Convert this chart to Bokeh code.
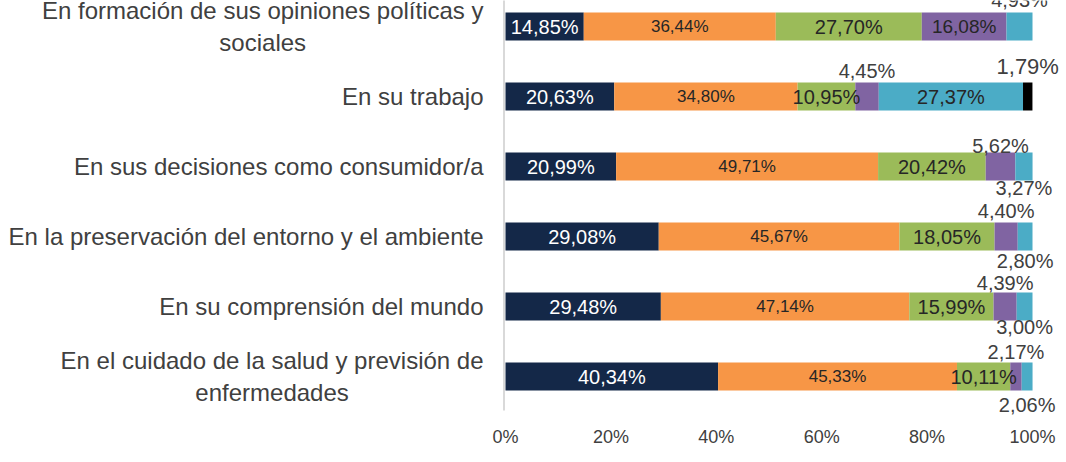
from bokeh.plotting import figure
from bokeh.models import FixedTicker, ColumnDataSource, Range1d
from bokeh.core.properties import value
from bokeh.embed import file_html
from bokeh.resources import INLINE

# ---- data (rows listed bottom -> top) ----
categories = [
    "En el cuidado de la salud y previsión de\nenfermedades",
    "En su comprensión del mundo",
    "En la preservación del entorno y el ambiente",
    "En sus decisiones como consumidor/a",
    "En su trabajo",
    "En formación de sus opiniones políticas y\nsociales",
]
serie_1 = [40.34, 29.48, 29.08, 20.99, 20.63, 14.85]
serie_2 = [45.33, 47.14, 45.67, 49.71, 34.80, 36.44]
serie_3 = [10.11, 15.99, 18.05, 20.42, 10.95, 27.70]
serie_4 = [2.17, 4.39, 4.40, 5.62, 4.45, 16.08]
serie_5 = [2.06, 3.00, 2.80, 3.27, 27.37, 4.93]
serie_6 = [0.00, 0.00, 0.00, 0.00, 1.79, 0.00]
x_ticks = [0, 20, 40, 60, 80, 100]
x_tick_labels = ["0%", "20%", "40%", "60%", "80%", "100%"]

# ---- styles ----
series = [serie_1, serie_2, serie_3, serie_4, serie_5, serie_6]
colors = ["#142848", "#F79646", "#9BBB59", "#8064A2", "#4BACC6", "#000000"]
inside_text_color = ["#FFFFFF", "#262626", "#262626", "#262626", "#262626", "#262626"]
inside_size = ["20px", "17px", "20px", "19px", "20px", "20px"]
# label placement per row (bottom->top) and series; None = no label,
# "in" = centred inside, number = pixel offset (negative above, positive below)
placement = [
    ["in", "in", "in", -25, 28, None],
    ["in", "in", "in", -24, 20, None],
    ["in", "in", "in", -26, 24, None],
    ["in", "in", "in", -21, 21, None],
    ["in", "in", "in", -26, "in", -30],
    ["in", "in", "in", "in", -27, None],
]
W, H = 1066, 462
PX0 = 505.0            # pixel of 0 %
PX_PER_PCT = 5.27
PX_PER_ROW = 70.0
TOP_PAD_PX = 26.0      # from frame top to the centre of the top row
FRAME_H = 422.0
AXIS_BOTTOM_PX = 410.0
BAR_H = 0.4
FONT = "Liberation Sans"
CAT_SIZE = 24
CAT_GAP = 22           # px between category labels and the axis

# Arial / Liberation Sans advance widths (1/1000 em) for centring wrapped labels
ADV = {" ": 278, "E": 667, "a": 556, "c": 500, "d": 556, "e": 556, "f": 278,
       "i": 222, "l": 222, "m": 833, "n": 556, "o": 556, "p": 556, "r": 333,
       "s": 500, "t": 278, "u": 556, "v": 500, "y": 500, "ó": 556, "í": 278}


def text_w(s, size):
    return sum(ADV.get(ch, 556) for ch in s) / 1000.0 * size


n_rows = len(categories)
y_top = (n_rows - 1) + TOP_PAD_PX / PX_PER_ROW
y_bot = y_top - FRAME_H / PX_PER_ROW

p = figure(width=W, height=H,
           x_range=Range1d(-PX0 / PX_PER_PCT, (W - PX0) / PX_PER_PCT),
           y_range=Range1d(y_bot, y_top),
           output_backend="svg", toolbar_location=None,
           min_border_left=0, min_border_right=0,
           min_border_top=0, min_border_bottom=int(H - FRAME_H))
p.outline_line_color = None
p.xgrid.visible = False
p.ygrid.visible = False
p.yaxis.visible = False
p.background_fill_color = "white"
p.border_fill_color = "white"

rows = list(range(n_rows))

# vertical axis line
axis_y0 = y_top - AXIS_BOTTOM_PX / PX_PER_ROW
p.segment(x0=[-1.5 / PX_PER_PCT], y0=[axis_y0], x1=[-1.5 / PX_PER_PCT], y1=[y_top + 1],
          line_color="#D9D9D9", line_width=2)

# stacked bars + labels
left = [0.0] * n_rows
lx, ly, lt, lc, ls = [], [], [], [], []
for si, vals in enumerate(series):
    right = [l + v for l, v in zip(left, vals)]
    src = ColumnDataSource(dict(y=rows, left=left, right=right))
    p.hbar(y="y", left="left", right="right", height=BAR_H, source=src,
           fill_color=colors[si], line_color=None)
    for r in rows:
        mode = placement[r][si]
        if mode is None or vals[r] <= 0:
            continue
        cx = (left[r] + right[r]) / 2.0
        txt = f"{vals[r]:.2f}%".replace(".", ",")
        if mode == "in":
            lx.append(cx); ly.append(r); lt.append(txt)
            lc.append(inside_text_color[si]); ls.append(inside_size[si])
        else:
            lx.append(cx); ly.append(r - mode / PX_PER_ROW); lt.append(txt)
            lc.append("#404040")
            ls.append("22px" if si == 5 else "20px")
    left = right

lsrc = ColumnDataSource(dict(x=lx, y=ly, t=lt, c=lc, s=ls))
p.text(x="x", y="y", text="t", source=lsrc, text_color="c",
       text_font_size="s", text_font=value(FONT),
       text_align="center", text_baseline="middle")

# category labels (right aligned; wrapped ones centred on their widest line)
cx_, ca_, co_ = [], [], []
for c in categories:
    lines = c.split("\n")
    if len(lines) > 1:
        wmax = max(text_w(l, CAT_SIZE) for l in lines)
        ca_.append("center"); co_.append(-CAT_GAP - wmax / 2.0)
    else:
        ca_.append("right"); co_.append(-CAT_GAP)
    cx_.append(0)
csrc = ColumnDataSource(dict(x=cx_, y=rows, t=categories, a=ca_, o=co_))
p.text(x="x", y="y", text="t", source=csrc, text_align="a", x_offset="o",
       text_baseline="middle", text_font=value(FONT),
       text_font_size=value(f"{CAT_SIZE}px"), text_color="#404040",
       text_line_height=1.17)

# x axis (percent)
p.xaxis.ticker = FixedTicker(ticks=x_ticks)
p.xaxis.major_label_overrides = {t: l for t, l in zip(x_ticks, x_tick_labels)}
p.xaxis.axis_line_color = None
p.xaxis.major_tick_out = 0
p.xaxis.major_tick_in = 0
p.xaxis.minor_tick_out = 0
p.xaxis.minor_tick_in = 0
p.xaxis.major_label_text_font = FONT
p.xaxis.major_label_text_font_size = "18px"
p.xaxis.major_label_text_color = "#404040"
p.xaxis.major_label_standoff = 4

open("out.html", "w").write(file_html(p, INLINE))
